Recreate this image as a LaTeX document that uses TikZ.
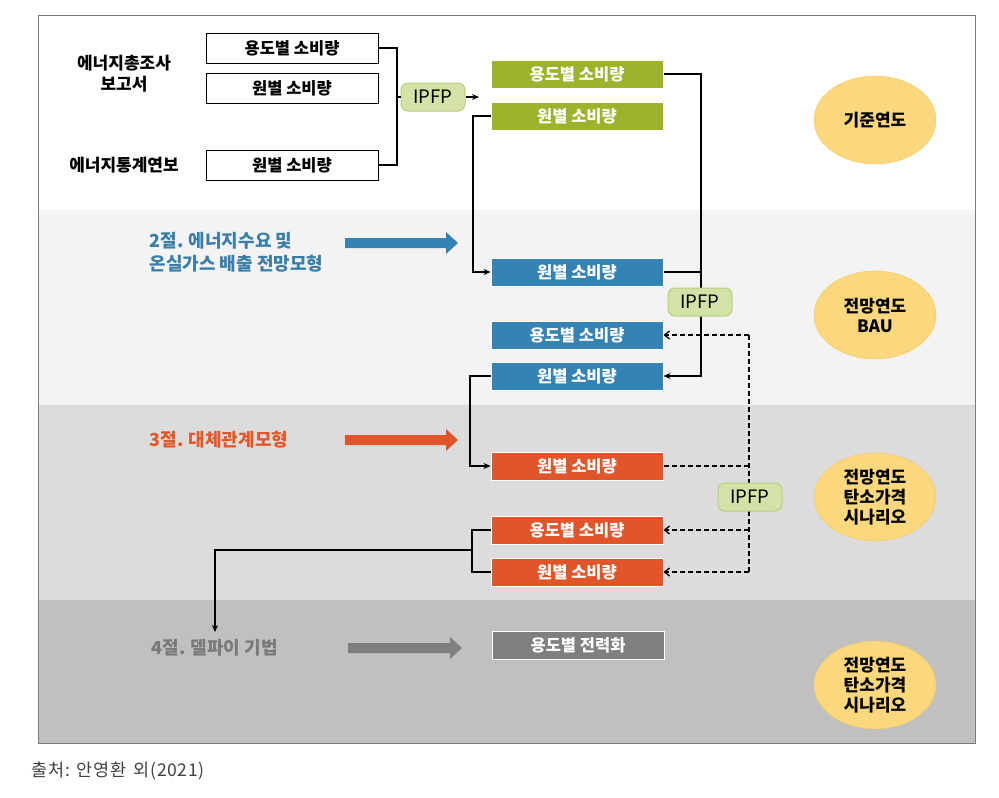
\documentclass[tikz,border=0pt]{standalone}
\usepackage{fontspec}
\setmainfont{Noto Sans CJK KR}
\newfontfamily\capfont[LetterSpace=4]{Noto Sans CJK KR}
\usetikzlibrary{arrows.meta,shapes.geometric}
\definecolor{greenbox}{HTML}{9CB42C}
\definecolor{bluebox}{HTML}{3483B4}
\definecolor{orangebox}{HTML}{E1552A}
\definecolor{graybox}{HTML}{7F7F7F}
\definecolor{ipfpfill}{HTML}{D3E2A6}
\definecolor{ipfpline}{HTML}{B9CF80}
\definecolor{ellfill}{HTML}{FBD87E}
\definecolor{ellline}{HTML}{F2C660}
\definecolor{bandA}{HTML}{FFFFFF}
\definecolor{bandB}{HTML}{F3F3F3}
\definecolor{bandC}{HTML}{DCDCDC}
\definecolor{bandD}{HTML}{C0C0C0}
\definecolor{bluetxt}{HTML}{3A7EAA}
\definecolor{orangetxt}{HTML}{E2582B}
\definecolor{graytxt}{HTML}{7A7A7A}
\tikzset{
  wbox/.style={draw=black, line width=0.9pt, fill=white, minimum width=172, minimum height=30, font=\fontsize{16.5}{18}\selectfont\bfseries, inner sep=0},
  cbox/.style={draw=white, line width=1pt, minimum width=172, minimum height=28, text=white, font=\fontsize{16.5}{18}\selectfont\bfseries, inner sep=0},
  ipfp/.style={draw=ipfpline, fill=ipfpfill, rounded corners=7, line width=1pt, minimum width=64, minimum height=28, font=\fontsize{18.5}{20}\selectfont, inner sep=0},
  ell/.style={ellipse, draw=ellline, fill=ellfill, minimum width=122, minimum height=88, inner sep=0, align=center, font=\fontsize{17}{20}\selectfont\bfseries},
  conn/.style={line width=1.3pt, draw=black},
  dconn/.style={line width=1.3pt, draw=black, dash pattern=on 5pt off 3pt},
  tip/.style={-{Stealth[length=7pt,width=6pt]}},
  otip/.style={-{Straight Barb[length=5pt,width=8pt]}},
  lbl/.style={font=\fontsize{18}{23}\selectfont\bfseries, align=left, anchor=west},
  srclbl/.style={font=\fontsize{17}{21}\selectfont\bfseries, align=center}
}
\newcommand{\bigarr}[4]{% x1, x2, y, colour
  \fill[#4] (#1,#3-5) -- (#2-12,#3-5) -- (#2-12,#3-11) -- (#2,#3) -- (#2-12,#3+11) -- (#2-12,#3+5) -- (#1,#3+5) -- cycle;}
\begin{document}
\begin{tikzpicture}[x=1pt,y=-1pt]
\useasboundingbox (0,0) rectangle (999,798);
% bands
\fill[bandA] (38,15) rectangle (975,210);
\fill[bandB] (38,210) rectangle (975,405);
\fill[bandC] (38,405) rectangle (975,600);
\fill[bandD] (38,600) rectangle (975,743);
\draw[draw=graytxt, line width=1pt] (38,15) rectangle (975,743);

% left labels
\node[srclbl] (src1) at (124,74) {에너지총조사\\보고서};
\node[srclbl] (src2) at (124,165) {에너지통계연보};

% white boxes
\node[wbox] (w1) at (292,48) {용도별 소비량};
\node[wbox] (w2) at (292,88) {원별 소비량};
\node[wbox] (w3) at (292,165) {원별 소비량};
\node[ipfp] (ip1) at (433,97) {IPFP};
\coordinate (j1) at (397,48);
\draw[conn] (w1.east) -- (j1) |- (w3.east);
\draw[conn] (397,97) -- (ip1.west);
\coordinate (ip1t) at (479,97);
\draw[conn, tip] (ip1.east) -- (ip1t);

% green boxes
\node[cbox, fill=greenbox] (g1) at (577,74) {용도별 소비량};
\node[cbox, fill=greenbox] (g2) at (577,116) {원별 소비량};

% blue
\node[lbl, text=bluetxt] (t2) at (146,252) {2절. 에너지수요 및\\온실가스 배출 전망모형};
\bigarr{345}{458}{243}{bluebox}
\node[cbox, fill=bluebox] (b1) at (577,272) {원별 소비량};
\node[cbox, fill=bluebox] (b2) at (577,335) {용도별 소비량};
\node[cbox, fill=bluebox] (b3) at (577,376) {원별 소비량};

\draw[conn, tip] (g1.east) -- (701,74) |- (b3.east);
\draw[conn] (b1.east) -- (701,272);
\draw[conn, tip] (g2.west) -- (473,116) |- (b1.west);
\node[ipfp] (ip2) at (700,302) {IPFP};

% orange
\node[lbl, text=orangetxt] (t3) at (146,440) {3절. 대체관계모형};
\bigarr{345}{458}{440}{orangebox}
\node[cbox, fill=orangebox] (o1) at (577,466) {원별 소비량};
\node[cbox, fill=orangebox] (o2) at (577,530) {용도별 소비량};
\node[cbox, fill=orangebox] (o3) at (577,572) {원별 소비량};
\draw[conn, tip] (b3.west) -- (470,376) |- (o1.west);

\coordinate (dtop) at (749,335);
\coordinate (dbot) at (749,572);
\draw[dconn] (o1.east) -- (749,466);
\draw[dconn] (dtop) -- (dbot);
\draw[dconn, otip] (dtop) -- (b2.east);
\draw[dconn, otip] (749,530) -- (o2.east);
\draw[dconn, otip] (dbot) -- (o3.east);
\node[ipfp] (ip3) at (750,497) {IPFP};

\draw[conn] (o2.west) -- (472,530) |- (o3.west);
\coordinate (d4) at (215,632);
\draw[conn, tip] (472,550) -| (d4);

% gray
\node[lbl, text=graytxt] (t4) at (148,648) {4절. 델파이 기법};
\bigarr{348}{462}{648}{graybox}
\node[cbox, fill=graybox] (gr1) at (578,645) {용도별 전력화};

% ellipses
\node[ell] (e1) at (875,120) {기준연도};
\node[ell] (e2) at (875,315) {전망연도\\BAU};
\node[ell] (e3) at (875,497) {전망연도\\탄소가격\\시나리오};
\node[ell] (e4) at (875,685) {전망연도\\탄소가격\\시나리오};

% caption
\node[anchor=west, text=black!75, font=\capfont\fontsize{17.5}{20}\selectfont] (cap) at (28,771) {출처:\hspace{7pt}안영환\hspace{7pt}외(2021)};
\end{tikzpicture}
\end{document}
